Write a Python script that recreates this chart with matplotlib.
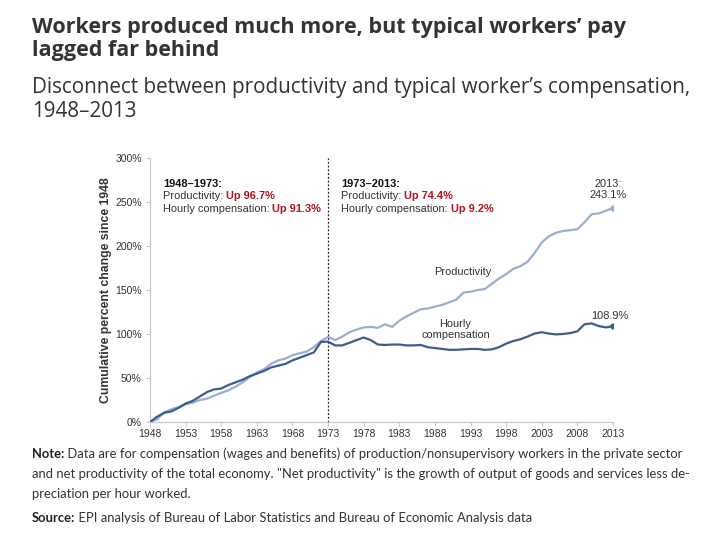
import matplotlib
matplotlib.use("Agg")
import matplotlib.pyplot as plt
import numpy as np

# 数据：1948 年以来累计变化（%）
years = list(range(1948, 2014))
productivity = [
    0, 3, 11, 14.5, 17, 20, 22, 25, 26.5, 30,
    33, 36, 40, 45, 51, 56, 60, 66, 70, 72,
    76, 78, 80, 85, 92, 96.7, 93, 97, 102, 105,
    107.5, 108, 107, 111, 108, 115, 120, 124, 128, 129,
    131, 133, 136, 139, 147, 148, 150, 151, 157, 163,
    168, 174, 177, 182, 192, 204, 211, 215, 217, 218,
    219, 227, 236, 237, 240, 243.1,
]
compensation = [
    0, 6, 10.5, 12, 16, 21, 24, 29, 34, 37,
    38, 42, 45, 48, 52, 55, 58, 62, 64, 66,
    70, 73, 76, 79, 91, 91.3, 87, 87, 90, 93,
    96, 93, 88, 87.5, 88, 88, 87, 87, 87.5, 85,
    84, 83, 82, 82, 82.5, 83, 83, 82, 82.5, 85,
    89, 92, 94, 97, 100.5, 102, 100.5, 99.5, 100, 101,
    103, 111, 112, 109, 107.5, 108.9,
]
xticks = list(range(1948, 2014, 5))
yticks = [0, 50, 100, 150, 200, 250, 300]

prod_color = "#9aaed0"
comp_color = "#3d5c8f"
red = "#b0141c"
txt = "#333333"

plt.rcParams["font.family"] = ["Liberation Sans", "DejaVu Sans"]

fig = plt.figure(figsize=(7.1, 5.33), dpi=100)
ax = fig.add_axes([0.2113, 0.2083, 0.652, 0.4953])

ax.plot(years, productivity, color=prod_color, lw=1.6, zorder=3)
ax.plot(years, compensation, color=comp_color, lw=1.6, zorder=4)
ax.plot(years[-1], productivity[-1], "o", color=prod_color, ms=3.5, zorder=5)
ax.plot(years[-1], compensation[-1], "o", color=comp_color, ms=3.5, zorder=5)

ax.axvline(1973, color="#222222", lw=0.9, ls=(0, (1.5, 1.5)), zorder=2)

ax.set_xlim(1948, 2013)
ax.set_ylim(0, 300)
ax.set_xticks(xticks)
ax.set_yticks(yticks)
ax.set_yticklabels([f"{v}%" for v in yticks])
for s in ["top", "right"]:
    ax.spines[s].set_visible(False)
for s in ["left", "bottom"]:
    ax.spines[s].set_color("#c8c8c8")
    ax.spines[s].set_linewidth(0.9)
ax.tick_params(axis="both", colors="#c8c8c8", labelcolor=txt, labelsize=7.5,
               length=3, width=0.8)
ax.tick_params(axis="x", pad=2)
ax.tick_params(axis="y", pad=3)
ax.set_ylabel("Cumulative percent change since 1948", fontsize=8.8,
              fontweight="bold", color=txt, labelpad=2)

# 期间注释
afs = 7.9
def period(x, y, head, p, c):
    ax.text(x, y, head, fontsize=afs, fontweight="bold", color="#111111", va="center")
    t1 = ax.text(x, y - 14.3, "Productivity: ", fontsize=afs, color=txt, va="center")
    ax.annotate(p, xycoords=t1, xy=(1, 0.5), va="center", fontsize=afs,
                fontweight="bold", color=red)
    t2 = ax.text(x, y - 28.6, "Hourly compensation: ", fontsize=afs, color=txt, va="center")
    ax.annotate(c, xycoords=t2, xy=(1, 0.5), va="center", fontsize=afs,
                fontweight="bold", color=red)

period(1949.8, 271, "1948\u20131973:", "Up 96.7%", "Up 91.3%")
period(1974.8, 271, "1973\u20132013:", "Up 74.4%", "Up 9.2%")

ax.text(1991.9, 170, "Productivity", fontsize=afs, color=txt, ha="center", va="center")
ax.text(1990.9, 105, "Hourly\ncompensation", fontsize=afs, color=txt,
        ha="center", va="center", linespacing=1.1)
ax.text(2012.3, 264, "2013:\n243.1%", fontsize=afs, color=txt, ha="center",
        va="center", linespacing=1.05)
ax.text(2012.5, 120, "108.9%", fontsize=afs, color=txt, ha="center", va="center")

# 标题
head_font = ["Open Sans", "DejaVu Sans"]
fig.text(0.045, 0.968, "Workers produced much more, but typical workers\u2019 pay\nlagged far behind",
         fontsize=15.5, fontweight="bold", color="#333333", va="top", linespacing=1.12,
         family=head_font)
fig.text(0.045, 0.855, "Disconnect between productivity and typical worker\u2019s compensation,\n1948\u20132013",
         fontsize=14.85, color="#333333", va="top", linespacing=1.18,
         family=head_font)

# 注释与来源
note_font = ["Lato", "DejaVu Sans"]
fs = 9.35
b1 = fig.text(0.045, 0.14, "Note:", fontsize=fs, fontweight="bold", color="#222222",
              family=note_font, va="baseline")
fig.canvas.draw()
r = fig.canvas.get_renderer()
w1 = b1.get_window_extent(r).width / fig.bbox.width
fig.text(0.045 + w1, 0.14,
         " Data are for compensation (wages and benefits) of production/nonsupervisory workers in the private sector",
         fontsize=fs, color="#333333", family=note_font, va="baseline")
fig.text(0.045, 0.103,
         "and net productivity of the total economy. \"Net productivity\" is the growth of output of goods and services less de-",
         fontsize=fs, color="#333333", family=note_font, va="baseline")
fig.text(0.045, 0.066, "preciation per hour worked.", fontsize=fs, color="#333333",
         family=note_font, va="baseline")
b2 = fig.text(0.045, 0.02, "Source:", fontsize=fs, fontweight="bold", color="#222222",
              family=note_font, va="baseline")
w2 = b2.get_window_extent(r).width / fig.bbox.width
fig.text(0.045 + w2, 0.02,
         " EPI analysis of Bureau of Labor Statistics and Bureau of Economic Analysis data",
         fontsize=fs, color="#333333", family=note_font, va="baseline")

fig.savefig("out.png", dpi=100)
